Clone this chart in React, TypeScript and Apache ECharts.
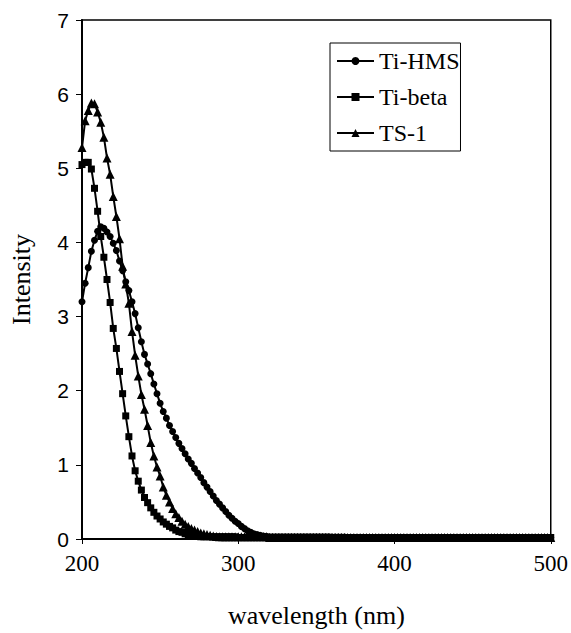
import React, { useEffect, useRef } from "react";
import * as echarts from "echarts";

const wavelengths = [
  200, 202, 204, 206, 208, 210, 212, 214, 216, 218,
  220, 222, 224, 226, 228, 230, 232, 234, 236, 238,
  240, 242, 244, 246, 248, 250, 252, 254, 256, 258,
  260, 262, 264, 266, 268, 270, 272, 274, 276, 278,
  280, 282, 284, 286, 288, 290, 292, 294, 296, 298,
  300, 302, 304, 306, 308, 310, 312, 314, 316, 318,
  320, 322, 324, 326, 328, 330, 332, 334, 336, 338,
  340, 342, 344, 346, 348, 350, 352, 354, 356, 358,
  360, 362, 364, 366, 368, 370, 372, 374, 376, 378,
  380, 382, 384, 386, 388, 390, 392, 394, 396, 398,
  400, 402, 404, 406, 408, 410, 412, 414, 416, 418,
  420, 422, 424, 426, 428, 430, 432, 434, 436, 438,
  440, 442, 444, 446, 448, 450, 452, 454, 456, 458,
  460, 462, 464, 466, 468, 470, 472, 474, 476, 478,
  480, 482, 484, 486, 488, 490, 492, 494, 496, 498,
  500,
];

const tiHMS = [
  3.2, 3.45, 3.66, 3.88, 4.03, 4.15, 4.21, 4.19, 4.14, 4.08,
  3.99, 3.89, 3.75, 3.62, 3.47, 3.35, 3.2, 3.04, 2.85, 2.66,
  2.49, 2.36, 2.23, 2.09, 1.96, 1.83, 1.72, 1.63, 1.53, 1.45,
  1.37, 1.29, 1.22, 1.15, 1.08, 1.02, 0.95, 0.89, 0.83, 0.76,
  0.7, 0.64, 0.58, 0.52, 0.47, 0.42, 0.37, 0.32, 0.28, 0.24,
  0.21, 0.17, 0.14, 0.11, 0.09, 0.07, 0.06, 0.05, 0.04, 0.035,
  0.03, 0.03, 0.03, 0.03, 0.03, 0.03, 0.03, 0.03, 0.03, 0.03,
  0.03, 0.03, 0.03, 0.03, 0.03, 0.03, 0.03, 0.03, 0.03, 0.03,
  0.025, 0.025, 0.025, 0.025, 0.025, 0.02, 0.02, 0.02, 0.02, 0.02,
  0.02, 0.02, 0.02, 0.02, 0.02, 0.02, 0.02, 0.02, 0.02, 0.02,
  0.02, 0.02, 0.02, 0.02, 0.02, 0.02, 0.02, 0.02, 0.02, 0.02,
  0.02, 0.02, 0.02, 0.02, 0.02, 0.02, 0.02, 0.02, 0.02, 0.02,
  0.02, 0.02, 0.02, 0.02, 0.02, 0.02, 0.02, 0.02, 0.02, 0.02,
  0.02, 0.02, 0.02, 0.02, 0.02, 0.02, 0.02, 0.02, 0.02, 0.02,
  0.02, 0.02, 0.02, 0.02, 0.02, 0.02, 0.02, 0.02, 0.02, 0.02,
  0.02,
];

const tiBeta = [
  5.05, 5.08, 5.08, 4.99, 4.73, 4.42, 4.08, 3.8, 3.5, 3.19,
  2.84, 2.57, 2.26, 1.96, 1.66, 1.38, 1.12, 0.92, 0.78, 0.66,
  0.56, 0.49, 0.42, 0.36, 0.31, 0.27, 0.23, 0.2, 0.17, 0.15,
  0.12, 0.1, 0.09, 0.07, 0.06, 0.05, 0.04, 0.035, 0.03, 0.03,
  0.03, 0.03, 0.03, 0.03, 0.03, 0.03, 0.03, 0.03, 0.03, 0.03,
  0.02, 0.02, 0.02, 0.02, 0.02, 0.02, 0.02, 0.02, 0.02, 0.02,
  0.02, 0.02, 0.02, 0.02, 0.02, 0.02, 0.02, 0.02, 0.02, 0.02,
  0.02, 0.02, 0.02, 0.02, 0.02, 0.02, 0.02, 0.02, 0.02, 0.02,
  0.02, 0.02, 0.02, 0.02, 0.02, 0.02, 0.02, 0.02, 0.02, 0.02,
  0.02, 0.02, 0.02, 0.02, 0.02, 0.02, 0.02, 0.02, 0.02, 0.02,
  0.02, 0.02, 0.02, 0.02, 0.02, 0.02, 0.02, 0.02, 0.02, 0.02,
  0.02, 0.02, 0.02, 0.02, 0.02, 0.02, 0.02, 0.02, 0.02, 0.02,
  0.02, 0.02, 0.02, 0.02, 0.02, 0.02, 0.02, 0.02, 0.02, 0.02,
  0.02, 0.02, 0.02, 0.02, 0.02, 0.02, 0.02, 0.02, 0.02, 0.02,
  0.02, 0.02, 0.02, 0.02, 0.02, 0.02, 0.02, 0.02, 0.02, 0.02,
  0.02,
];

const ts1 = [
  5.28, 5.64, 5.78, 5.88, 5.87, 5.76, 5.62, 5.42, 5.14, 4.92,
  4.62, 4.35, 4.05, 3.68, 3.44, 3.18, 2.8, 2.48, 2.2, 1.95,
  1.75, 1.53, 1.3, 1.12, 0.97, 0.85, 0.7, 0.59, 0.5, 0.41,
  0.34, 0.29, 0.24, 0.2, 0.17, 0.14, 0.12, 0.1, 0.08, 0.07,
  0.06, 0.05, 0.04, 0.035, 0.03, 0.03, 0.03, 0.03, 0.03, 0.03,
  0.03, 0.03, 0.03, 0.03, 0.03, 0.03, 0.03, 0.03, 0.03, 0.03,
  0.02, 0.02, 0.02, 0.02, 0.02, 0.02, 0.02, 0.02, 0.02, 0.02,
  0.02, 0.02, 0.02, 0.02, 0.02, 0.02, 0.02, 0.02, 0.02, 0.02,
  0.02, 0.02, 0.02, 0.02, 0.02, 0.02, 0.02, 0.02, 0.02, 0.02,
  0.02, 0.02, 0.02, 0.02, 0.02, 0.02, 0.02, 0.02, 0.02, 0.02,
  0.02, 0.02, 0.02, 0.02, 0.02, 0.02, 0.02, 0.02, 0.02, 0.02,
  0.02, 0.02, 0.02, 0.02, 0.02, 0.02, 0.02, 0.02, 0.02, 0.02,
  0.02, 0.02, 0.02, 0.02, 0.02, 0.02, 0.02, 0.02, 0.02, 0.02,
  0.02, 0.02, 0.02, 0.02, 0.02, 0.02, 0.02, 0.02, 0.02, 0.02,
  0.02, 0.02, 0.02, 0.02, 0.02, 0.02, 0.02, 0.02, 0.02, 0.02,
  0.02,
];

const seriesNames = ["Ti-HMS", "Ti-beta", "TS-1"];
const seriesSymbols = ["circle", "rect", "triangle"];
const seriesSizes = [7, 7, 9];
const seriesValues = [tiHMS, tiBeta, ts1];

const SERIF = "Liberation Serif";
const SANS = "Liberation Sans";

export default function App() {
  const ref = useRef<HTMLDivElement>(null);

  useEffect(() => {
    if (!ref.current) return;
    const chart = echarts.init(ref.current, undefined, { renderer: "svg" });
    const series = seriesNames.map((name, i) => ({
      name,
      type: "line",
      data: wavelengths.map((w, j) => [w, seriesValues[i][j]]),
      symbol: seriesSymbols[i],
      symbolSize: seriesSizes[i],
      showSymbol: true,
      lineStyle: { color: "#000", width: 2 },
      itemStyle: { color: "#000" },
      emphasis: { disabled: true },
    }));
    chart.setOption({
      animation: false,
      backgroundColor: "#fff",
      textStyle: { fontFamily: SERIF, color: "#000" },
      grid: {
        left: 81,
        right: 19,
        top: 20,
        bottom: 88,
        show: true,
        borderColor: "#000",
        borderWidth: 1.5,
        containLabel: false,
      },
      legend: {
        orient: "vertical",
        left: 330,
        top: 43,
        itemWidth: 37,
        itemHeight: 10,
        itemGap: 12,
        padding: [6, 1, 6, 6],
        borderColor: "#000",
        borderWidth: 1,
        backgroundColor: "#fff",
        textStyle: { fontFamily: SERIF, fontSize: 24, color: "#000", lineHeight: 24 },
        data: seriesNames,
      },
      xAxis: {
        type: "value",
        min: 200,
        max: 500,
        interval: 100,
        name: "wavelength (nm)",
        nameLocation: "middle",
        nameGap: 63,
        nameTextStyle: { fontFamily: SERIF, fontSize: 26, color: "#000" },
        axisLine: { show: true, lineStyle: { color: "#000", width: 2 } },
        axisTick: { show: true, inside: false, length: 5, lineStyle: { color: "#000" } },
        axisLabel: { fontFamily: SERIF, fontSize: 23, color: "#000", margin: 13 },
        splitLine: { show: false },
      },
      yAxis: {
        type: "value",
        min: 0,
        max: 7,
        interval: 1,
        name: "Intensity",
        nameLocation: "middle",
        nameRotate: 90,
        nameGap: 48,
        nameTextStyle: { fontFamily: SERIF, fontSize: 26, color: "#000" },
        axisLine: { show: true, lineStyle: { color: "#000", width: 2 } },
        axisTick: { show: true, inside: false, length: 6, lineStyle: { color: "#000" } },
        axisLabel: { fontFamily: SANS, fontSize: 21, color: "#000", margin: 13 },
        splitLine: { show: false },
      },
      series,
    });
    return () => chart.dispose();
  }, []);

  return (
    <div
      ref={ref}
      style={{ position: "fixed", left: 0, top: 0, width: 571, height: 633, background: "#fff" }}
    />
  );
}
